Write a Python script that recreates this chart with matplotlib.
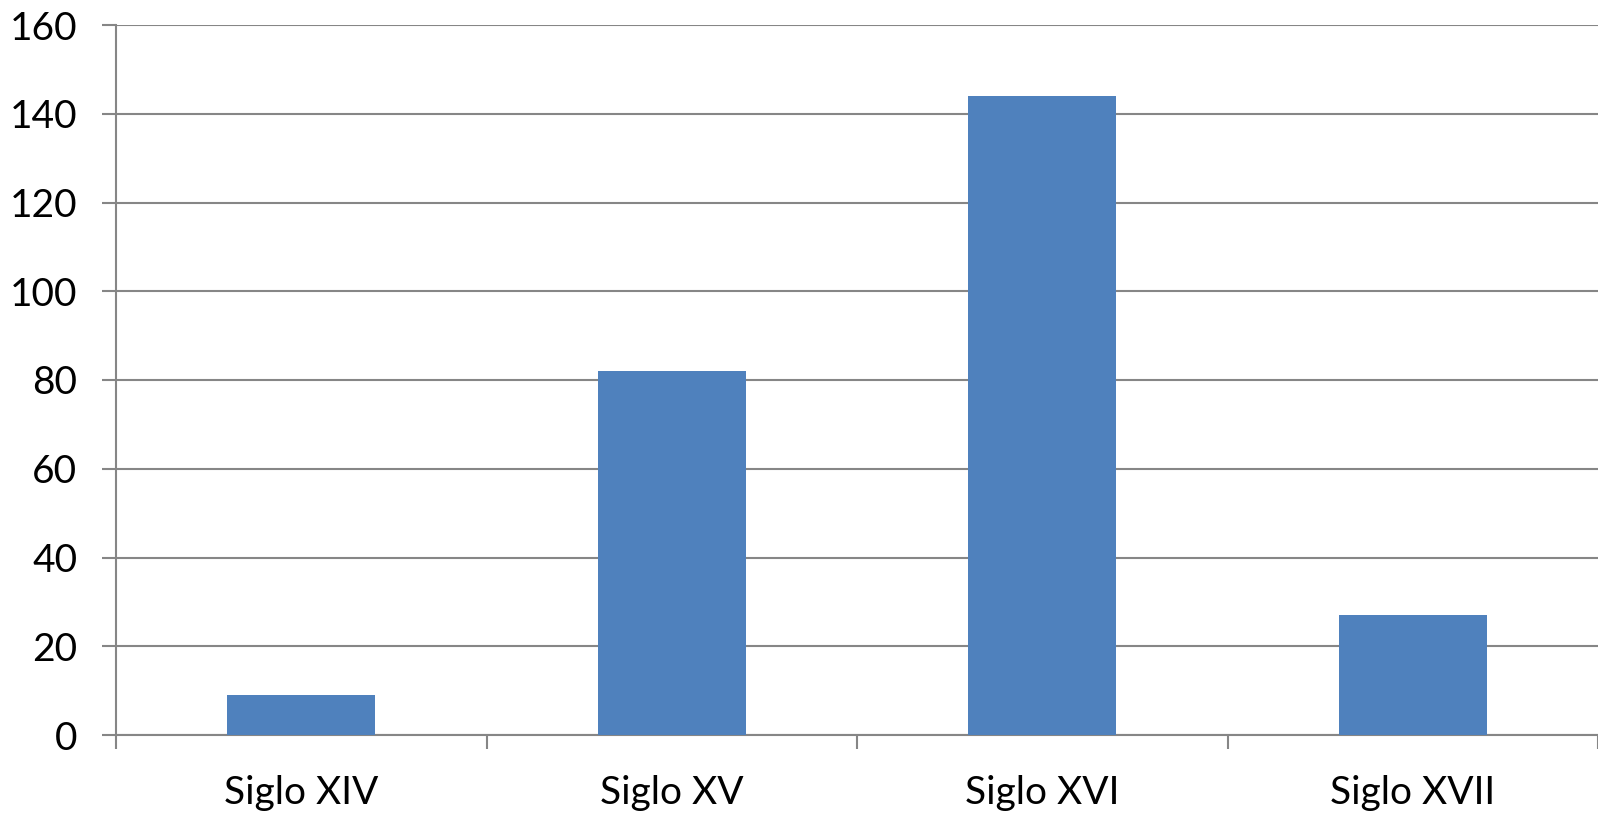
import matplotlib.pyplot as plt
import numpy as np

# Datos: número de obras por siglo
categorias = ['Siglo XIV', 'Siglo XV', 'Siglo XVI', 'Siglo XVII']
valores = [9, 82, 144, 27]
y_ticks = [0, 20, 40, 60, 80, 100, 120, 140, 160]

plt.rcParams['font.family'] = ['Lato', 'DejaVu Sans']

fig = plt.figure(figsize=(15.98, 8.15), dpi=100)
ax = fig.add_axes([116 / 1598, 1 - 735 / 815, 1 - 116 / 1598, 710 / 815])

gris = '#868686'
x = np.arange(len(categorias))
ax.bar(x, valores, width=0.4, color='#4F81BD', zorder=3)

ax.set_xlim(-0.5, len(categorias) - 0.5)
ax.set_ylim(0, 160)
ax.set_yticks(y_ticks)
ax.yaxis.grid(True, color=gris, linewidth=1.5, zorder=0)

# marcas en los límites de cada categoría, etiquetas en el centro
ax.set_xticks(np.arange(len(categorias) + 1) - 0.5)
ax.set_xticklabels([])
ax.set_xticks(x, minor=True)
ax.set_xticklabels(categorias, minor=True, fontsize=28)
ax.tick_params(axis='x', which='major', length=10, width=1.5, color=gris, direction='out')
ax.tick_params(axis='x', which='minor', length=0, pad=29)
ax.tick_params(axis='y', length=10, width=1.5, color=gris, labelsize=28, pad=18)
for t in ax.xaxis.get_major_ticks():
    t.tick1line.set_clip_on(False)

for lado in ['top', 'right']:
    ax.spines[lado].set_visible(False)
for lado in ['left', 'bottom']:
    ax.spines[lado].set_color(gris)
    ax.spines[lado].set_linewidth(1.5)

fig.savefig('out.png', dpi=100)
